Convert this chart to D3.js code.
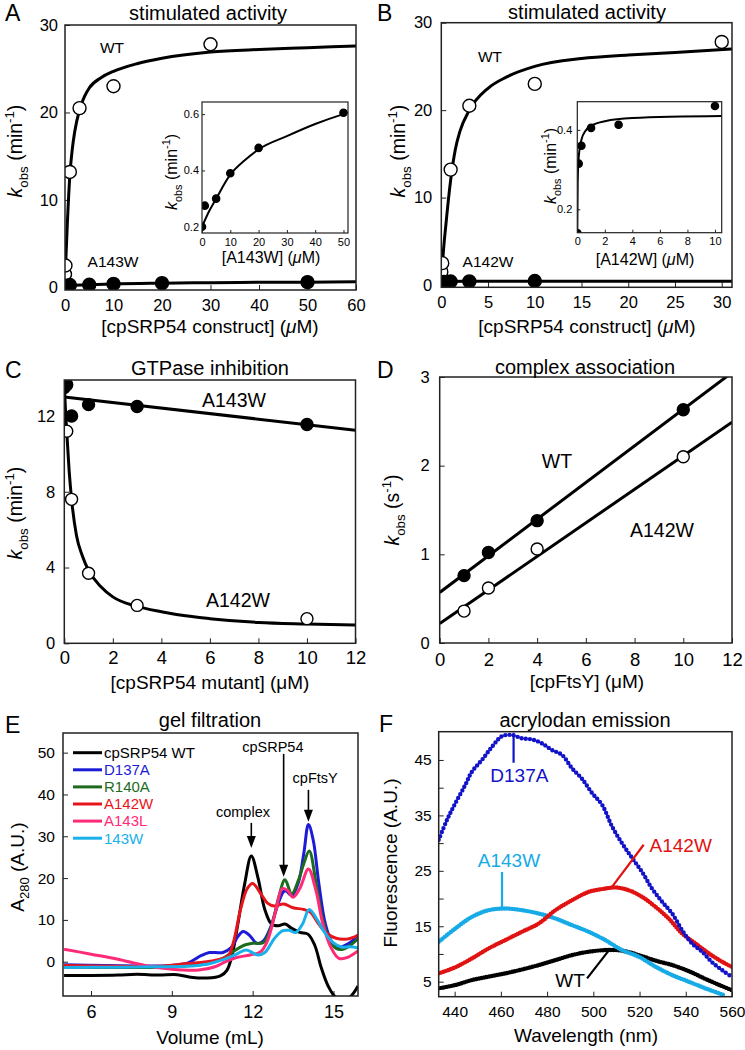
<!DOCTYPE html>
<html><head><meta charset="utf-8">
<script src="https://cdn.jsdelivr.net/npm/d3@7/dist/d3.min.js"></script>
<style>
body{margin:0;background:#fff;}
svg text{font-family:"Liberation Sans", Arial, Helvetica, sans-serif;}
</style></head><body>
<svg id="fig" width="745" height="1050" xmlns="http://www.w3.org/2000/svg"></svg>
<script>
// ================= DATA =================
// Panels A & B: WT stimulated activity
const wtConc = [0, 0.1, 1, 3, 10, 30];
const wtKobs = [1.5, 2.5, 13.2, 20.5, 23.0, 27.8];
// Panel A: A143W
const a143Conc = [0, 1, 5, 10, 20, 50];
const a143Kobs = [0.20, 0.275, 0.30, 0.39, 0.48, 0.605];
// Panel B: A142W
const a142Conc = [0, 0.1, 0.3, 1, 3, 10];
const a142Kobs = [0.14, 0.315, 0.36, 0.405, 0.413, 0.46];
// Fitted curves
const fitWT_A = [[0,0],[0.2,3.5],[0.5,7.5],[1,12.8],[1.5,15.8],[2,17.8],[3,20.3],[4,21.8],[5,22.8],[7.5,24.0],[10,24.7],[15,25.6],[20,26.2],[30,26.9],[40,27.2],[50,27.4],[60,27.6]];
const fitA143_A = [[0,0.2],[5,0.3],[10,0.39],[20,0.48],[30,0.54],[40,0.58],[50,0.6],[60,0.63]];
const fitA143_inset = [[0,0.2],[2.5,0.255],[5,0.3],[10,0.385],[15,0.435],[20,0.475],[30,0.522],[40,0.565],[50,0.6],[51.6,0.605]];
const fitWT_B = [[0,0],[0.2,3.5],[0.5,7],[1,12],[1.5,15.5],[2,17.6],[3,20],[5,22.5],[7,23.8],[10,25],[15,25.9],[20,26.3],[25,26.6],[31.1,27.0]];
const fitA142_B = [[0,0.15],[0.1,0.3],[0.3,0.36],[1,0.41],[3,0.43],[31.1,0.435]];
const fitA142_inset = [[0,0.14],[0.03,0.27],[0.1,0.33],[0.3,0.375],[0.6,0.398],[1,0.41],[2,0.422],[4,0.43],[10.5,0.435]];

// Panel C: GTPase inhibition
const c143Conc = [0, 0.1, 0.3, 1, 3, 10];
const c143Kobs = [13.5, 13.65, 12.0, 12.6, 12.5, 11.55];
const c142Conc = [0.1, 0.3, 1, 3, 10];
const c142Kobs = [11.2, 7.6, 3.7, 2.0, 1.3];
const fitC143 = [[0,13.0],[12,11.25]];
const fitC142 = [[0,13.6],[0.05,12.3],[0.1,11.2],[0.2,9.1],[0.3,7.6],[0.5,5.7],[0.75,4.6],[1,3.85],[1.5,3.0],[2,2.45],[3,1.95],[4,1.67],[5,1.45],[6,1.3],[8,1.1],[10,1.02],[12,0.96]];

// Panel D: complex association
const dFtsY = [1, 2, 4, 10];
const dKobsWT = [0.76, 1.02, 1.38, 2.63];
const dKobs142 = [0.36, 0.62, 1.06, 2.10];
const fitDWT = [[0,0.57],[12,3.05]];
const fitD142 = [[0,0.22],[12,2.49]];

// Panel E: gel filtration traces [volume mL, A280]
const eWT = [[5,-3.3],[6,-3.3],[7,-3.2],[7.7,-3.0],[8.5,-3.2],[9.2,-3.1],[9.7,-3.7],[10.3,-3.9],[10.8,-3.4],[11.05,-2.0],[11.25,2.0],[11.45,9],[11.7,18.5],[11.95,25.3],[12.2,20],[12.45,12.5],[12.7,9],[12.95,8.6],[13.2,9.0],[13.45,8.0],[13.75,7.0],[14.05,6.6],[14.3,4.0],[14.55,-1.5],[14.8,-5.8],[15.05,-8.3],[15.3,-9.0],[15.6,-8.5],[15.91,-5.8]];
const eD137A = [[5,-0.7],[6.5,-0.9],[8,-1.0],[9,-0.9],[9.6,-0.3],[10.1,1.5],[10.4,2.2],[10.9,2.2],[11.2,3.4],[11.45,6],[11.65,7.2],[11.9,6.2],[12.15,4.4],[12.4,5.0],[12.65,8],[12.9,13],[13.15,16.8],[13.25,16.9],[13.45,15.8],[13.7,19],[13.9,26],[14.07,32.8],[14.25,29],[14.45,19],[14.7,9],[14.95,4.6],[15.2,3.4],[15.45,4.0],[15.7,5.0],[15.91,6.4]];
const eR140A = [[5,-1.3],[7,-1.4],[8.5,-1.3],[9.5,-1.0],[10.3,-0.5],[10.9,0.8],[11.3,2.5],[11.7,4.0],[12.0,4.4],[12.4,4.6],[12.7,8.5],[12.95,15],[13.2,19.6],[13.45,16.2],[13.7,19.5],[13.9,23.5],[14.1,26.5],[14.35,19],[14.6,10],[14.85,5.2],[15.1,3.2],[15.35,3.0],[15.6,3.8],[15.91,5.5]];
const eA142W = [[5,-0.9],[7,-1.1],[8.5,-1.1],[9.5,-0.5],[10.3,0],[10.8,0.6],[11.1,1.5],[11.3,5],[11.55,12.5],[11.8,17.5],[12,18.7],[12.3,16.3],[12.55,14],[12.8,13.3],[13.15,13.8],[13.5,12.9],[13.9,12.5],[14.15,11.8],[14.4,9.5],[14.75,6.8],[15.1,5.6],[15.5,5.4],[15.91,6.3]];
const eA143L = [[5,3.0],[6,1.8],[7,0.6],[8,-0.9],[9,-1.8],[10,-2.0],[10.6,-1.2],[11,0],[11.4,1.0],[11.9,1.6],[12.3,2.4],[12.55,5],[12.85,12],[13.1,17.5],[13.3,17],[13.5,15.4],[13.75,17.5],[14.07,22.2],[14.35,17],[14.6,9.2],[14.9,3.5],[15.2,0.8],[15.5,1.0],[15.91,2.6]];
const e143W = [[5,-1.4],[7,-1.3],[8.5,-1.2],[9.5,-1.1],[10.3,-0.6],[10.9,0.5],[11.4,1.8],[11.75,2.8],[12.2,1.6],[12.45,2.2],[12.8,5.5],[13.1,7.4],[13.35,7.5],[13.6,7.0],[13.85,9.0],[14.1,12.5],[14.4,10],[14.65,7.2],[15,4.5],[15.3,3.5],[15.6,3.6],[15.91,3.3]];
const eLegendNames = ["cpSRP54 WT","D137A","R140A","A142W","A143L","143W"];
const eColors = ["#000000","#1c1cd8","#1d6b1d","#e8141c","#ff2a78","#1ab0ea"];

// Panel F: acrylodan emission [wavelength nm, fluorescence]
const fD137A = [[433.1,30.6],[436.7,34.2],[440.3,37.2],[444.6,40.5],[447.5,42.9],[451.8,45],[456.2,47.4],[460.5,49.3],[464.8,49.5],[469.1,48.9],[473.5,48.7],[477.8,48],[482.1,46.8],[486.5,45.9],[490.8,43.5],[495.1,41.6],[499.5,39],[503.8,36.9],[508.1,33],[512.4,30],[516.8,27.3],[521.1,24.8],[525.4,21.8],[529.8,19.4],[534.1,17.3],[538.4,14.3],[542.7,11.9],[547.1,10.4],[551.4,8.5],[555.7,7.1],[559.8,5.9]];
const fA142W = [[433.1,6.5],[440.3,7.6],[447.5,9.2],[454.7,11],[461.9,12.5],[469.1,14],[476.4,15.5],[483.6,17.9],[490.8,19.7],[498,21.2],[505.2,21.8],[509.6,22],[515.3,21.5],[521.1,20.3],[526.9,18.5],[532.6,16.4],[538.4,13.7],[544.2,11.9],[550,10.1],[555.7,8.6],[559.8,7.7]];
const fA143W = [[433.1,12.2],[440.3,14.6],[447.5,16.7],[454.7,17.9],[461.9,18.2],[469.1,17.9],[476.4,17.3],[483.6,16.4],[490.8,15.2],[498,14],[505.2,12.5],[512.4,10.7],[519.7,9.5],[526.9,7.7],[534.1,6.2],[541.3,5],[548.5,3.8],[556.4,2.6]];
const fWT = [[433.1,3.8],[440.3,4.4],[447.5,5.3],[454.7,5.9],[461.9,6.5],[469.1,7.2],[476.4,8],[483.6,8.9],[490.8,9.8],[498,10.4],[505.2,10.7],[512.4,10.6],[519.7,9.8],[526.9,8.8],[534.1,8.0],[541.3,6.9],[548.5,5.5],[555.7,4.2],[559.8,3.5]];
const fColors = {D137A:"#1212c8", A142W:"#e01212", A143W:"#16aae6", WT:"#000000"};

// Tick values
const ticksA_x = [0,10,20,30,40,50,60], ticksA_y = [0,10,20,30];
const ticksB_x = [0,5,10,15,20,25,30], ticksB_y = [0,10,20,30];
const ticksAin_x = [0,10,20,30,40,50], ticksAin_y = [0.2,0.4,0.6];
const ticksBin_x = [0,2,4,6,8,10], ticksBin_y = [0.2,0.4];
const ticksC_x = [0,2,4,6,8,10,12], ticksC_y = [0,4,8,12];
const ticksD_x = [0,2,4,6,8,10,12], ticksD_y = [0,1,2,3];
const ticksE_x = [6,9,12,15], ticksE_y = [0,10,20,30,40,50];
const ticksF_x = [440,460,480,500,520,540,560], ticksF_y = [5,10,15,20,25,30,35,40,45];

// ================= DRAWING =================
const FONT = '"Liberation Sans", Arial, Helvetica, sans-serif';
const svg = d3.select("#fig");
svg.append("rect").attr("width",745).attr("height",1050).attr("fill","#fff");
let clipN = 0;

function panel(c){
  const g = svg.append("g");
  const x = d3.scaleLinear().domain(c.xd).range([c.L, c.R]);
  const y = d3.scaleLinear().domain(c.yd).range([c.B, c.T]);
  g.append("rect").attr("x",c.L).attr("y",c.T).attr("width",c.R-c.L).attr("height",c.B-c.T).attr("fill","#fff");
  const id = "clip"+(clipN++);
  g.append("clipPath").attr("id",id).append("rect").attr("x",c.L).attr("y",c.T).attr("width",c.R-c.L).attr("height",c.B-c.T);
  const xa = d3.axisBottom(x).tickValues(c.xt).tickSizeInner(-c.tl).tickSizeOuter(0).tickPadding(c.xp).tickFormat(c.xf || d3.format("d"));
  g.append("g").attr("transform",`translate(0,${c.B})`).call(xa)
    .attr("font-family",FONT).attr("font-size",c.xfs)
    .call(s=>{s.select(".domain").remove(); s.selectAll("line").attr("stroke","#222").attr("stroke-width",1);});
  const ya = d3.axisLeft(y).tickValues(c.yt).tickSizeInner(-c.tl).tickSizeOuter(0).tickPadding(c.yp).tickFormat(c.yf || d3.format("d"));
  g.append("g").attr("transform",`translate(${c.L},0)`).call(ya)
    .attr("font-family",FONT).attr("font-size",c.yfs)
    .call(s=>{s.select(".domain").remove(); s.selectAll("line").attr("stroke","#222").attr("stroke-width",1);});
  const plot = g.append("g").attr("clip-path",`url(#${id})`);
  const frame = ()=> g.append("rect").attr("x",c.L).attr("y",c.T).attr("width",c.R-c.L).attr("height",c.B-c.T)
      .attr("fill","none").attr("stroke","#222").attr("stroke-width",c.fw||1.4);
  return {g, plot, x, y, frame, clipId:id};
}
function curve(p, P, pts, color, w, cv, dash){
  const line = d3.line().x(d=>P.x(d[0])).y(d=>P.y(d[1])).curve(cv || d3.curveMonotoneX);
  const path = p.append("path").attr("d", line(pts)).attr("fill","none").attr("stroke",color).attr("stroke-width",w)
    .attr("stroke-linejoin","round");
  if (dash) path.attr("stroke-dasharray",dash).attr("stroke-linecap","round");
  return path;
}
function dots(p, P, xs, ys, r, open){
  p.selectAll(null).data(xs.map((v,i)=>[v,ys[i]])).enter().append("circle")
   .attr("cx",d=>P.x(d[0])).attr("cy",d=>P.y(d[1])).attr("r",r)
   .attr("fill",open?"#fff":"#000").attr("stroke","#000").attr("stroke-width",1.4);
}
function text(x,y,s,fs,opt={}){
  return svg.append("text").attr("x",x).attr("y",y).attr("font-size",fs).attr("font-family",FONT)
    .attr("text-anchor",opt.anchor||"middle").attr("fill",opt.fill||"#000").text(s);
}
function kobsLabel(x,y,fs,unit){
  const t = svg.append("text").attr("transform",`translate(${x},${y}) rotate(-90)`).attr("text-anchor","middle")
    .attr("font-size",fs).attr("font-family",FONT);
  t.append("tspan").attr("font-style","italic").text("k");
  t.append("tspan").attr("font-size",fs*0.68).attr("dy",fs*0.3).text("obs");
  t.append("tspan").attr("dy",-fs*0.3).text(" (" + unit);
  t.append("tspan").attr("font-size",fs*0.68).attr("dy",-fs*0.42).text("-1");
  t.append("tspan").attr("dy",fs*0.42).text(")");
}
function concLabel(x,y,fs,pre,italicMu){
  const t = svg.append("text").attr("x",x).attr("y",y).attr("text-anchor","middle").attr("font-size",fs).attr("font-family",FONT);
  t.append("tspan").text(pre + " (");
  const m = t.append("tspan").text("\u03bc"); if (italicMu) m.attr("font-style","italic");
  t.append("tspan").text("M)");
}
function letter(x,y,s){ text(x,y,s,23,{anchor:"start"}); }

// ---------- Panel A ----------
const A = panel({L:65,R:356,T:25,B:290,xd:[0,60],yd:[-0.3,30],xt:ticksA_x,yt:ticksA_y,tl:5,xp:9,yp:7,xfs:16.5,yfs:16.5,fw:1.5});
curve(A.plot, A, fitWT_A, "#000", 3);
curve(A.plot, A, fitA143_A, "#000", 3);
dots(A.plot, A, wtConc, wtKobs, 6.5, true);
dots(A.plot, A, a143Conc, a143Kobs, 6.5, false);
A.frame();
text(112,53,"WT",15.5);
text(113,266.5,"A143W",15.5);
const Ai = panel({L:202,R:348,T:102,B:233,xd:[0,51.6],yd:[0.178,0.643],xt:ticksAin_x,yt:ticksAin_y,tl:3,xp:5,yp:3,xfs:11,yfs:11,xf:d3.format("d"),yf:d3.format(".1f"),fw:1.2});
curve(Ai.plot, Ai, fitA143_inset, "#000", 2);
dots(Ai.plot, Ai, a143Conc, a143Kobs, 3.6, false);
Ai.frame();
kobsLabel(177,172,16,"min");
concLabel(271,263,16,"[A143W]",true);
text(208,20,"stimulated activity",20);
kobsLabel(22,151,19.5,"min");
concLabel(210,333,19,"[cpSRP54 construct]",true);
letter(5,21,"A");

// ---------- Panel B ----------
const Bp = panel({L:441.3,R:732,T:22.7,B:287.3,xd:[0,31.1],yd:[-0.26,30],xt:ticksB_x,yt:ticksB_y,tl:5,xp:9,yp:9,xfs:16.5,yfs:16.5,fw:1.5});
curve(Bp.plot, Bp, fitWT_B, "#000", 3);
curve(Bp.plot, Bp, fitA142_B, "#000", 3);
dots(Bp.plot, Bp, wtConc, wtKobs, 6.5, true);
dots(Bp.plot, Bp, a142Conc, a142Kobs, 6.5, false);
Bp.frame();
text(490,61.5,"WT",15.5);
text(488,266.5,"A142W",15.5);
const Bi = panel({L:577.3,R:721.7,T:101.7,B:232.7,xd:[0,10.49],yd:[0.141,0.471],xt:ticksBin_x,yt:ticksBin_y,tl:3,xp:5,yp:5,xfs:11,yfs:11,yf:d3.format(".1f"),fw:1.2});
curve(Bi.plot, Bi, fitA142_inset, "#000", 2);
dots(Bi.plot, Bi, a142Conc, a142Kobs, 3.6, false);
Bi.frame();
kobsLabel(556,166,16,"min");
concLabel(645,265,16,"[A142W]",true);
text(587,18.5,"stimulated activity",20);
kobsLabel(405,151,19.5,"min");
concLabel(587,333,19,"[cpSRP54 construct]",true);
letter(377,21,"B");

// ---------- Panel C ----------
const C = panel({L:64.3,R:355.5,T:380,B:643.3,xd:[0,12],yd:[0,13.9],xt:ticksC_x,yt:ticksC_y,tl:5,xp:8,yp:9,xfs:18.5,yfs:16.5,fw:1.5});
curve(C.plot, C, fitC143, "#000", 3, d3.curveLinear);
curve(C.plot, C, fitC142, "#000", 3);
dots(C.plot, C, c143Conc, c143Kobs, 6, false);
dots(C.plot, C, c142Conc, c142Kobs, 6, true);
C.frame();
text(234,406.5,"A143W",19.5);
text(238,606.5,"A142W",19.5);
text(210,375,"GTPase inhibition",20);
kobsLabel(22,513,19.5,"min");
concLabel(210,689,19,"[cpSRP54 mutant]",false);
letter(5,378,"C");

// ---------- Panel D ----------
const D = panel({L:439.7,R:732,T:377,B:643,xd:[0,12],yd:[0,3],xt:ticksD_x,yt:ticksD_y,tl:5,xp:10,yp:10,xfs:18.5,yfs:16.5,fw:1.5});
curve(D.plot, D, fitDWT, "#000", 3, d3.curveLinear);
curve(D.plot, D, fitD142, "#000", 3, d3.curveLinear);
dots(D.plot, D, dFtsY, dKobsWT, 6, false);
dots(D.plot, D, dFtsY, dKobs142, 6, true);
D.frame();
text(557,468,"WT",19.5);
text(662,536.5,"A142W",19.5);
text(585,374,"complex association",20);
kobsLabel(399,510,19.5,"s");
concLabel(587,688,19,"[cpFtsY]",false);
letter(377,378,"D");

// ---------- Panel E ----------
const E = panel({L:63,R:358,T:733,B:996,xd:[4.96,15.91],yd:[-8.2,54.7],xt:ticksE_x,yt:ticksE_y,tl:5,xp:9,yp:8,xfs:18,yfs:15.5,fw:1.5});
[eWT,eD137A,eR140A,eA142W,eA143L,e143W].forEach((s,i)=>curve(E.plot, E, s, eColors[i], 3, d3.curveCatmullRom.alpha(0.5)));
E.frame();
// legend
eLegendNames.forEach((n,i)=>{
  const yy = 752.7 + i*17.1;
  svg.append("line").attr("x1",73).attr("x2",102).attr("y1",yy).attr("y2",yy).attr("stroke",eColors[i]).attr("stroke-width",3);
  text(104,yy+5.3,n,15,{anchor:"start",fill:eColors[i]});
});
// arrows
const eArrows = [{label:"complex", v:11.95, lv:11.64, from:33.2, to:27.2, lb:34.6},
                 {label:"cpSRP54", v:13.15, lv:12.75, from:49.7, to:20.3, lb:50.2},
                 {label:"cpFtsY", v:14.07, lv:14.32, from:41.1, to:33.5, lb:42.8}];
eArrows.forEach(a=>{
  const xx = E.x(a.v), y1 = E.y(a.from), y2 = E.y(a.to);
  svg.append("line").attr("x1",xx).attr("x2",xx).attr("y1",y1).attr("y2",y2-10).attr("stroke","#000").attr("stroke-width",1.6);
  svg.append("path").attr("d",`M${xx-4.5},${y2-12}L${xx+4.5},${y2-12}L${xx},${y2}Z`).attr("fill","#000");
  text(E.x(a.lv),E.y(a.lb),a.label,14.5);
});
text(210,727,"gel filtration",20);
{
  const t = svg.append("text").attr("transform","translate(24,867) rotate(-90)").attr("text-anchor","middle").attr("font-size",19).attr("font-family",FONT);
  t.append("tspan").text("A");
  t.append("tspan").attr("font-size",13).attr("dy",5).text("280");
  t.append("tspan").attr("dy",-5).text(" (A.U.)");
}
text(210,1044,"Volume (mL)",19);
letter(5,733,"E");

// ---------- Panel F ----------
const F = panel({L:438.7,R:732,T:731.7,B:996.7,xd:[433.1,560],yd:[2.29,50.1],xt:ticksF_x,yt:ticksF_y,tl:5,xp:9,yp:7,xfs:15.5,yfs:15.5,yf:d=>(d%10===5? d : ""),fw:1.5});
curve(F.plot, F, fWT, fColors.WT, 4.4, d3.curveCatmullRom.alpha(0.5), "0,2.6");
curve(F.plot, F, fA143W, fColors.A143W, 4.4, d3.curveCatmullRom.alpha(0.5), "0,2.6");
curve(F.plot, F, fA142W, fColors.A142W, 4.4, d3.curveCatmullRom.alpha(0.5), "0,2.6");
curve(F.plot, F, fD137A, fColors.D137A, 4.4, d3.curveCatmullRom.alpha(0.5), "0,4.2");
F.frame();
const fNotes = [
  {name:"D137A", l1:[465.5,49.9], l2:[465.5,44.5], t:[468.0,41.1]},
  {name:"A143W", l1:[460.5,24.8], l2:[460.5,17.9], t:[463.5,25.6]},
  {name:"A142W", l1:[521.8,29.7], l2:[508.1,22.1], t:[537.8,28.4]},
  {name:"WT",    l1:[497.3,5.6],  l2:[507.4,11.0], t:[489.9,4.1]}
];
fNotes.forEach(n=>{
  svg.append("line").attr("x1",F.x(n.l1[0])).attr("y1",F.y(n.l1[1])).attr("x2",F.x(n.l2[0])).attr("y2",F.y(n.l2[1]))
    .attr("stroke",fColors[n.name]).attr("stroke-width",2.2);
  text(F.x(n.t[0]),F.y(n.t[1]),n.name,19,{fill:fColors[n.name]});
});
text(585,727,"acrylodan emission",20);
{
  const t = svg.append("text").attr("transform","translate(397,863) rotate(-90)").attr("text-anchor","middle").attr("font-size",19).attr("font-family",FONT);
  t.text("Fluorescence (A.U.)");
}
text(586,1042,"Wavelength (nm)",19);
letter(379,732,"F");
</script>
</body></html>
